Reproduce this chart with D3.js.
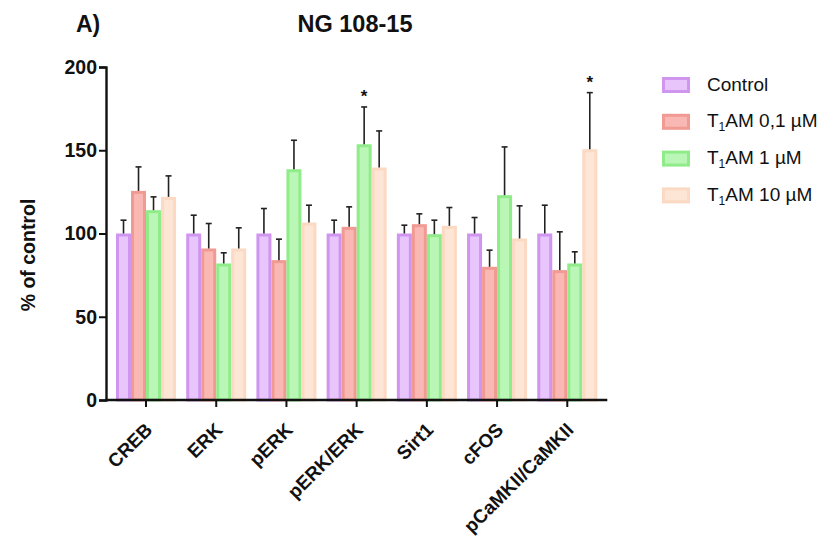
<!DOCTYPE html>
<html>
<head>
<meta charset="utf-8">
<script src="https://cdn.jsdelivr.net/npm/d3@7"></script>
<style>
  html, body { margin: 0; padding: 0; background: #fff; }
  svg { display: block; }
  text { font-family: "Liberation Sans", Arial, sans-serif; }
</style>
</head>
<body>
<svg id="chart" width="827" height="541"></svg>
<script>
// Protein expression in NG 108-15 cells, % of control
const categories = ["CREB", "ERK", "pERK", "pERK/ERK", "Sirt1", "cFOS", "pCaMKII/CaMKII"];
const groups = ["Control", "T1AM 0,1 µM", "T1AM 1 µM", "T1AM 10 µM"];

const controlMean = [100, 100, 100, 100, 100, 100, 100];
const controlErr  = [108, 111, 115, 108, 105, 109.6, 117];
const t01Mean     = [125.6, 91, 84, 104, 105.6, 80, 78];
const t01Err      = [140, 106, 96.6, 116, 111.8, 90, 101];
const t1Mean      = [114, 82, 138.6, 153.6, 99.6, 123, 82];
const t1Err       = [122, 88.4, 156, 176, 108, 152, 89];
const t10Mean     = [122, 91, 106.6, 139.6, 104.6, 97, 150.6];
const t10Err      = [134.6, 103.4, 117, 161.6, 115.6, 116.6, 184.6];

const yTicks = [0, 50, 100, 150, 200];
// significance markers: [category index, group index]
const stars = [[3, 2], [6, 3]];

const fills   = ["#e8c5fb", "#f9b8b3", "#baf6b6", "#fde6d6"];
const strokes = ["#cf95ef", "#f19a93", "#8fec89", "#fbd9c2"];

const means = [controlMean, t01Mean, t1Mean, t10Mean];
const errs  = [controlErr, t01Err, t1Err, t10Err];

const svg = d3.select("#chart");
const plotLeft = 106, plotRight = 607.3, plotTop = 67, plotBottom = 400;

const y = d3.scaleLinear().domain([0, 200]).range([plotBottom, plotTop]);
const x = d3.scaleBand().domain(categories).range([plotLeft, plotRight]).paddingInner(0.145).paddingOuter(0.1425);
const xs = d3.scaleBand().domain(d3.range(groups.length)).range([0, x.bandwidth()]);

const data = [];
categories.forEach((c, i) => {
  groups.forEach((g, j) => {
    data.push({ cat: c, gi: j, mean: means[j][i], err: errs[j][i] });
  });
});

// bars
svg.append("g").selectAll("rect").data(data).join("rect")
  .attr("x", d => x(d.cat) + xs(d.gi) + 1.5)
  .attr("y", d => y(d.mean) + 1.5)
  .attr("width", xs.bandwidth() - 3)
  .attr("height", d => y(0) - y(d.mean) - 1.5)
  .attr("fill", d => fills[d.gi])
  .attr("stroke", d => strokes[d.gi])
  .attr("stroke-width", 3);

// error bars (upper only)
const eg = svg.append("g").attr("stroke", "#222").attr("stroke-width", 1.6);
data.forEach(d => {
  const cx = x(d.cat) + xs(d.gi) + xs.bandwidth() / 2;
  eg.append("line").attr("x1", cx).attr("x2", cx).attr("y1", y(d.mean)).attr("y2", y(d.err));
  eg.append("line").attr("x1", cx - 3).attr("x2", cx + 3).attr("y1", y(d.err)).attr("y2", y(d.err));
});

// significance stars
stars.forEach(([ci, gi]) => {
  const cx = x(categories[ci]) + xs(gi) + xs.bandwidth() / 2;
  svg.append("text")
    .attr("x", cx).attr("y", y(errs[gi][ci]) - 5)
    .attr("text-anchor", "middle")
    .attr("font-size", 17).attr("font-weight", "bold")
    .attr("fill", "#111")
    .text("*");
});

// y axis
const yAxis = svg.append("g")
  .attr("transform", `translate(${plotLeft},0)`)
  .call(d3.axisLeft(y).tickValues(yTicks).tickSize(7).tickPadding(2));
yAxis.select(".domain").attr("stroke", "#111").attr("stroke-width", 2.4);
yAxis.selectAll(".tick line").attr("stroke", "#111").attr("stroke-width", 2);
yAxis.selectAll(".tick text").attr("font-size", 19.5).attr("font-weight", "bold").attr("fill", "#111")
  .attr("font-family", "Liberation Sans, Arial, sans-serif");

// x axis
const xAxis = svg.append("g")
  .attr("transform", `translate(0,${plotBottom})`)
  .call(d3.axisBottom(x).tickSize(7).tickSizeOuter(0).tickFormat(""));
xAxis.select(".domain").attr("stroke", "#111").attr("stroke-width", 2.4)
  .attr("d", `M${plotLeft - 1},0H${plotRight}`);
xAxis.selectAll(".tick line").attr("stroke", "#111").attr("stroke-width", 2);
xAxis.selectAll(".tick").append("text")
  .attr("transform", "translate(7.5,31) rotate(-45)")
  .attr("text-anchor", "end")
  .attr("font-size", 19).attr("font-weight", "bold").attr("fill", "#111")
  .text(d => d);

// y axis title
svg.append("text")
  .attr("transform", "translate(35,255) rotate(-90)")
  .attr("text-anchor", "middle")
  .attr("font-size", 19.5).attr("font-weight", "bold").attr("fill", "#111")
  .text("% of control");

// panel label and title
svg.append("text").attr("x", 76).attr("y", 32)
  .attr("font-size", 23).attr("font-weight", "bold").attr("fill", "#111")
  .text("A)");
svg.append("text").attr("x", 355).attr("y", 32).attr("text-anchor", "middle")
  .attr("font-size", 23.5).attr("font-weight", "bold").attr("fill", "#111")
  .text("NG 108-15");

// legend
const legend = svg.append("g").attr("transform", "translate(662,77)");
groups.forEach((g, j) => {
  const row = legend.append("g").attr("transform", `translate(0,${j * 36.8})`);
  row.append("rect").attr("x", 1.5).attr("y", 1.5).attr("width", 25).attr("height", 13)
    .attr("fill", fills[j]).attr("stroke", strokes[j]).attr("stroke-width", 3);
  const t = row.append("text").attr("x", 45).attr("y", 13.5)
    .attr("font-size", 19).attr("fill", "#111");
  if (j === 0) {
    t.text("Control");
  } else {
    t.append("tspan").text("T");
    t.append("tspan").attr("font-size", 12).attr("dy", 4).text("1");
    t.append("tspan").attr("dy", -4).text(g.replace("T1", ""));
  }
});
</script>
</body>
</html>
